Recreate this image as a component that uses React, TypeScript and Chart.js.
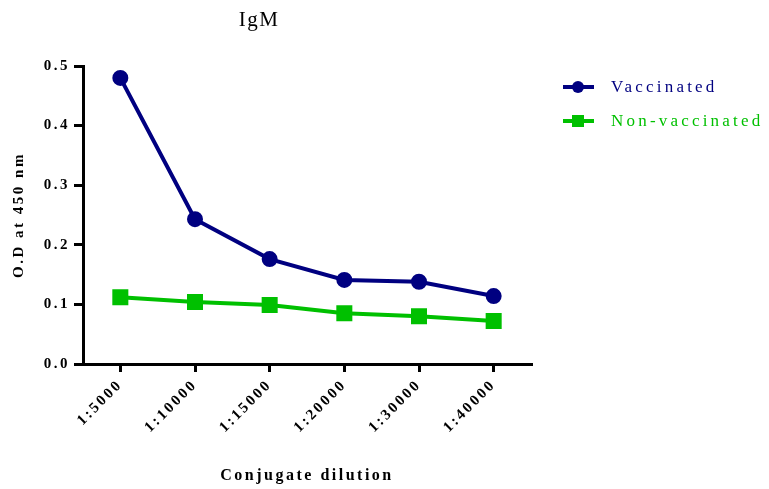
import { useEffect, useRef } from 'react';
import { Chart, registerables } from 'chart.js';

Chart.register(...registerables);

// Conjugate dilution series (OD at 450 nm)
const dilutions = ['1:5000', '1:10000', '1:15000', '1:20000', '1:30000', '1:40000'];
const vaccinated = [0.48, 0.243, 0.176, 0.141, 0.138, 0.114];
const nonVaccinated = [0.112, 0.104, 0.099, 0.085, 0.08, 0.072];
const yTicks = [0, 0.1, 0.2, 0.3, 0.4, 0.5];

const SERIF = '"Liberation Serif", "Times New Roman", serif';
const NAVY = '#000080';
const GREEN = '#00C000';

// Spaced-out lettering for every label, plus the title and a line+marker legend.
const spacedText = {
  id: 'spacedText',
  beforeDraw(chart: any) {
    chart.ctx.letterSpacing = '2.5px';
  },
  afterDraw(chart: any) {
    const ctx = chart.ctx;
    ctx.save();
    ctx.letterSpacing = '1.5px';
    ctx.font = `21px ${SERIF}`;
    ctx.fillStyle = '#000';
    ctx.textAlign = 'center';
    ctx.textBaseline = 'middle';
    ctx.fillText('IgM', 259, 20);

    chart.data.datasets.forEach((ds: any, i: number) => {
      const y = 87 + i * 34;
      ctx.strokeStyle = ds.borderColor;
      ctx.lineWidth = 4;
      ctx.beginPath();
      ctx.moveTo(563, y);
      ctx.lineTo(594, y);
      ctx.stroke();
      ctx.fillStyle = ds.backgroundColor;
      if (ds.pointStyle === 'rect') {
        ctx.fillRect(572, y - 6, 12, 12);
      } else {
        ctx.beginPath();
        ctx.arc(578, y, 6, 0, Math.PI * 2);
        ctx.fill();
      }
      ctx.letterSpacing = '3.2px';
      ctx.font = `17px ${SERIF}`;
      ctx.textAlign = 'left';
      ctx.fillStyle = ds.borderColor;
      ctx.fillText(ds.label, 611, y + 1);
    });
    ctx.restore();
  },
};

export default function App() {
  const canvasRef = useRef<HTMLCanvasElement | null>(null);

  useEffect(() => {
    const canvas = canvasRef.current;
    if (!canvas) return;
    const tickFont = { family: SERIF, size: 15, weight: 'bold' as const };
    const chart = new Chart(canvas, {
      type: 'line',
      data: {
        labels: dilutions,
        datasets: [
          {
            label: 'Vaccinated',
            data: vaccinated,
            borderColor: NAVY,
            backgroundColor: NAVY,
            borderWidth: 4,
            pointStyle: 'circle',
            pointRadius: 6,
            pointHoverRadius: 6,
            tension: 0,
          },
          {
            label: 'Non-vaccinated',
            data: nonVaccinated,
            borderColor: GREEN,
            backgroundColor: GREEN,
            borderWidth: 4,
            pointStyle: 'rect',
            pointRadius: 8.5,
            pointHoverRadius: 8.5,
            tension: 0,
          },
        ],
      },
      options: {
        responsive: false,
        animation: false,
        layout: { padding: { left: 0, top: 66, right: 238, bottom: 0 } },
        plugins: {
          legend: { display: false },
          title: { display: false },
          tooltip: { enabled: false },
        },
        scales: {
          x: {
            offset: true,
            border: { display: true, color: '#000', width: 3 },
            grid: {
              display: true,
              drawOnChartArea: false,
              drawTicks: true,
              tickLength: 8,
              lineWidth: 3,
              color: '#000',
            },
            ticks: {
              color: '#000',
              font: tickFont,
              minRotation: 45,
              maxRotation: 45,
              autoSkip: false,
              padding: 4,
            },
            title: {
              display: true,
              text: 'Conjugate dilution',
              color: '#000',
              font: { family: SERIF, size: 16, weight: 'bold' },
              padding: { top: 0, bottom: 4 },
            },
            afterFit(scale: any) {
              scale.height = 125;
            },
          },
          y: {
            min: 0,
            max: 0.5,
            border: { display: true, color: '#000', width: 3 },
            grid: {
              display: true,
              drawOnChartArea: false,
              drawTicks: true,
              tickLength: 9,
              lineWidth: 3,
              color: '#000',
            },
            afterBuildTicks(scale: any) {
              scale.ticks = yTicks.map((v) => ({ value: v }));
            },
            ticks: {
              color: '#000',
              font: tickFont,
              padding: 4,
              callback: (v: any) => Number(v).toFixed(1),
            },
            title: {
              display: true,
              text: 'O.D at 450 nm',
              color: '#000',
              font: { family: SERIF, size: 15, weight: 'bold' },
              padding: { top: 10, bottom: 0 },
            },
            afterFit(scale: any) {
              scale.width = 83;
            },
          },
        },
      },
      plugins: [spacedText],
    });
    return () => chart.destroy();
  }, []);

  return (
    <div style={{ position: 'absolute', left: 0, top: 0, width: 769, height: 489, background: '#fff' }}>
      <canvas ref={canvasRef} width={769} height={489} style={{ display: 'block' }} />
    </div>
  );
}
